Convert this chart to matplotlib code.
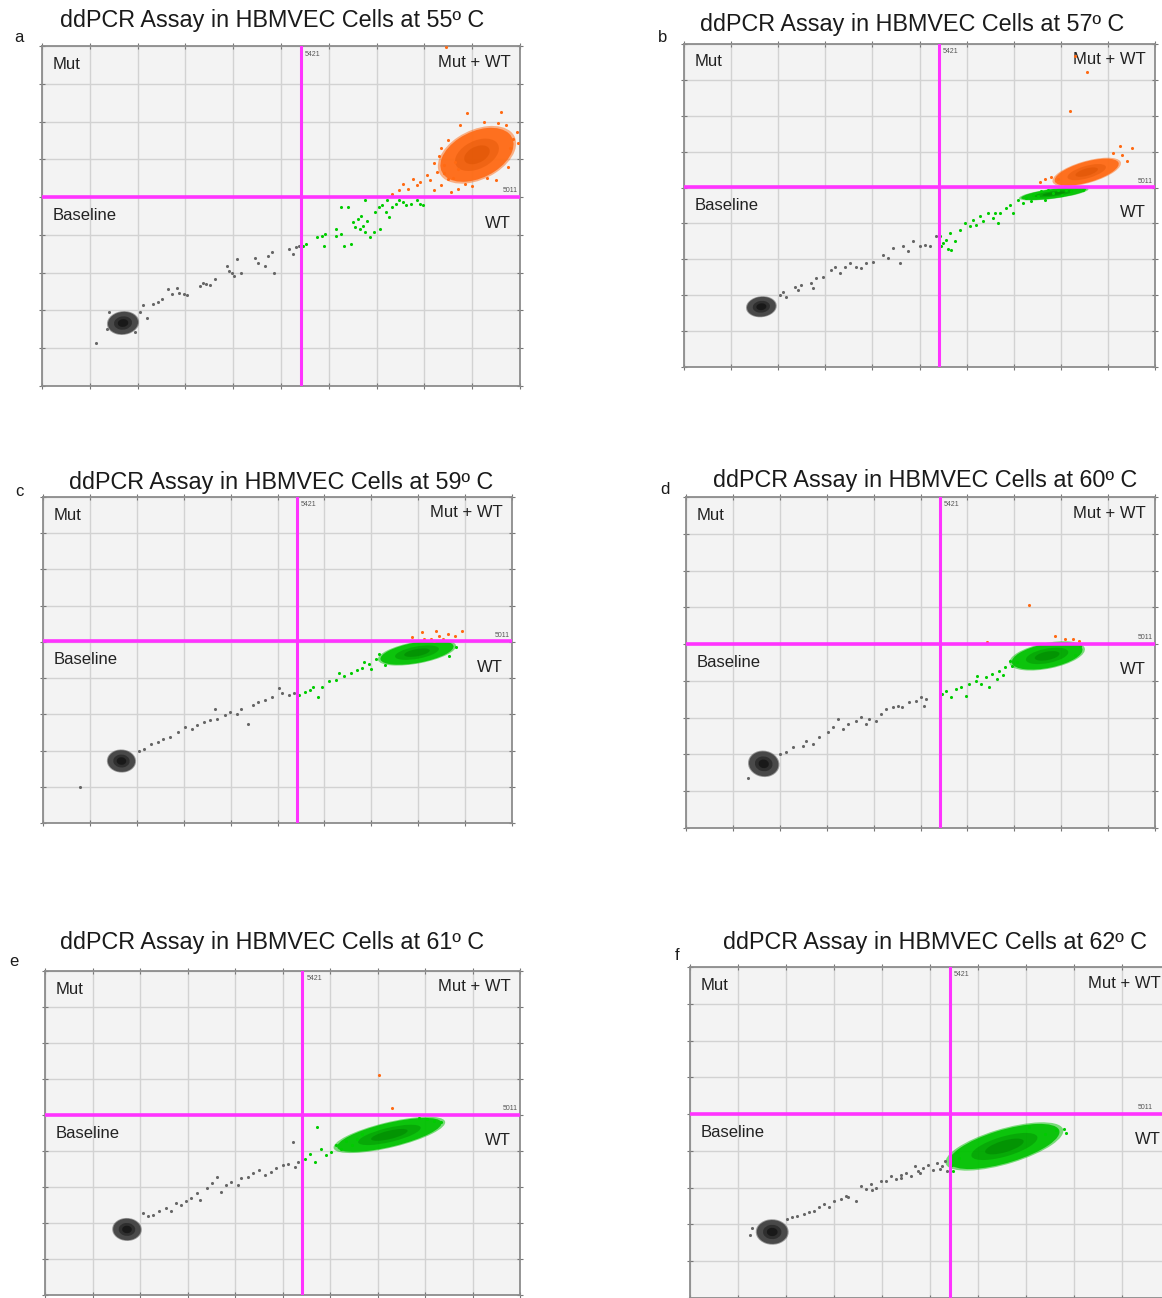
import numpy as np
import matplotlib.pyplot as plt
from matplotlib.patches import Ellipse

plt.rcParams['font.family'] = ['Liberation Sans', 'DejaVu Sans']

# channel thresholds (amplitude)
thr_x = 5421
thr_y = 5011

titles = ["ddPCR Assay in HBMVEC Cells at 55º C", "ddPCR Assay in HBMVEC Cells at 57º C",
          "ddPCR Assay in HBMVEC Cells at 59º C", "ddPCR Assay in HBMVEC Cells at 60º C",
          "ddPCR Assay in HBMVEC Cells at 61º C", "ddPCR Assay in HBMVEC Cells at 62º C"]
letters = ["a", "b", "c", "d", "e", "f"]

# dense droplet clusters: (colour group, centre x, centre y, spread x, spread y, tilt)
clusters_a = [("gray", 1695, 1667, 640, 580, 25), ("orange", 9100, 6120, 1750, 1150, 40)]
clusters_b = [("gray", 1643, 1679, 620, 540, 20), ("green", 7850, 4830, 1400, 260, 10),
              ("orange", 8550, 5430, 1450, 560, 22)]
clusters_c = [("gray", 1673, 1711, 580, 600, 20), ("green", 7974, 4703, 1600, 560, 14)]
clusters_d = [("gray", 1657, 1745, 620, 680, 20), ("green", 7700, 4680, 1550, 650, 15)]
clusters_e = [("gray", 1726, 1821, 580, 600, 20), ("green", 7250, 4447, 2300, 650, 18)]
clusters_f = [("gray", 1713, 1795, 640, 650, 20), ("green", 6550, 4120, 2450, 880, 22)]

# scattered droplets (x amplitude, y amplitude)
gray_a = [(1130, 1150), (2105, 2131), (2322, 2158), (2430, 2220), (2502, 2291), (2646, 2557),
          (2718, 2424), (2826, 2602), (2862, 2469), (2971, 2424), (3043, 2398), (3295, 2646),
          (3367, 2735), (3439, 2691), (3511, 2664), (3619, 2824), (3872, 3179), (3908, 3046),
          (3980, 3001), (4016, 2913), (4088, 3357), (4160, 3001), (4449, 3401), (4521, 3268),
          (4665, 3179), (4737, 3445), (4809, 3534), (4845, 3001), (5170, 3623), (5242, 3490),
          (5314, 3667), (5386, 3712), (1350, 1500), (2050, 1950), (2200, 1800), (1400, 1950),
          (1950, 1420)]
green_a = [(5458, 3712), (5530, 3756), (5747, 3934), (5855, 3978), (5891, 3712), (5927, 4023),
           (6143, 4156), (6143, 3978), (6251, 4023), (6323, 3712), (6467, 3756), (6251, 4733),
           (6395, 4733), (6503, 4333), (6539, 4200), (6611, 4422), (6647, 4156), (6683, 4511),
           (6719, 4245), (6755, 4067), (6792, 4378), (6864, 3934), (6936, 4067), (6755, 4911),
           (6972, 4600), (7044, 4733), (7080, 4156), (7116, 4778), (7188, 4600), (7260, 4467),
           (7332, 4733), (7404, 4822), (7477, 4911), (7549, 4866), (7621, 4778), (7729, 4822),
           (7837, 4911), (7909, 4822), (7981, 4778), (7224, 4911)]
orange_a = [(7332, 5088), (7477, 5177), (7549, 5355), (7657, 5222), (7765, 5488), (7837, 5310),
            (7909, 5399), (8053, 5577), (8125, 5444), (8198, 5177), (8270, 5666), (8342, 5310),
            (8414, 5843), (8486, 5488), (8558, 5133), (8630, 5932), (8702, 5222), (8883, 7219),
            (9604, 7264), (9928, 6731), (9964, 6420), (8450, 8969), (8300, 6100), (8500, 6500),
            (9800, 6300), (9500, 5450), (8850, 5350), (9250, 7000), (9700, 6900), (8200, 5900),
            (8400, 5650), (8600, 5500), (8700, 5750), (8350, 6300), (9750, 5800), (9850, 6550),
            (9550, 6950), (9000, 5300), (9300, 5500), (8750, 6900)]

gray_b = [(2032, 2006), (2103, 2099), (2174, 1959), (2351, 2239), (2421, 2146), (2492, 2286),
          (2705, 2333), (2740, 2193), (2811, 2473), (2952, 2519), (3129, 2706), (3200, 2799),
          (3306, 2612), (3413, 2799), (3519, 2892), (3660, 2799), (3767, 2752), (3873, 2892),
          (4014, 2939), (4227, 3126), (4333, 3032), (4439, 3312), (4581, 2892), (4652, 3359),
          (4758, 3219), (4864, 3499), (5006, 3359), (5112, 3405), (5218, 3359), (5360, 3639)]
green_b = [(5430, 3639), (5466, 3359), (5572, 3545), (5643, 3732), (5678, 3265), (5749, 3499),
           (5855, 3825), (5961, 4012), (6068, 3919), (6138, 4105), (6280, 4199), (6351, 4059),
           (6457, 4292), (6563, 4152), (6669, 4012), (6705, 4292), (6846, 4432), (6917, 4525),
           (6988, 4292), (7094, 4665), (7200, 4572), (7271, 4712), (7377, 4618), (7413, 4805),
           (7519, 4758), (7590, 4898), (7661, 4665), (7731, 4945), (7838, 4852), (7944, 4945),
           (8015, 4805), (8121, 4945), (8227, 4898), (8333, 4992), (8475, 4945), (5500, 3450),
           (5600, 3300), (6200, 3950), (6600, 4300)]
orange_b = [(8192, 7137), (8546, 8210), (8298, 8677), (9254, 6158), (9502, 6111), (7554, 5150),
            (7661, 5225), (7800, 5300), (9300, 5900), (9100, 5950), (9400, 5750), (7950, 5250)]

gray_c = [(789, 982), (2041, 1991), (2152, 2038), (2299, 2179), (2447, 2225), (2557, 2319),
          (2705, 2366), (2889, 2506), (3036, 2646), (3184, 2599), (3294, 2693), (3442, 2786),
          (3552, 2833), (3663, 3160), (3700, 2880), (3884, 2973), (3995, 3067), (4142, 3020),
          (4216, 3160), (4363, 2740), (4474, 3254), (4584, 3347), (4731, 3394), (4879, 3488),
          (5026, 3721), (5100, 3581), (5247, 3534), (5358, 3581)]
green_c = [(5469, 3534), (5579, 3628), (5690, 3674), (5763, 3768), (5874, 3488), (5948, 3768),
           (6095, 3908), (6243, 3955), (6316, 4142), (6427, 4048), (6574, 4142), (6685, 4236),
           (6795, 4282), (6943, 4376), (7090, 4516), (7164, 4656), (8800, 4850), (8650, 4600),
           (7300, 4350), (6850, 4450), (7000, 4250)]
orange_c = [(7864, 5124), (8085, 5264), (8269, 5077), (8380, 5311), (8453, 5171), (8527, 5077),
            (8638, 5217), (8785, 5171), (8932, 5311), (8122, 5077), (8343, 5030)]

gray_d = [(1324, 1365), (1997, 2016), (2138, 2061), (2280, 2197), (2492, 2242), (2563, 2378),
          (2705, 2287), (2846, 2468), (3023, 2604), (3129, 2739), (3236, 2965), (3342, 2694),
          (3448, 2829), (3625, 2920), (3731, 3010), (3837, 2829), (3908, 2965), (4050, 2920),
          (4156, 3101), (4262, 3236), (4404, 3281), (4510, 3327), (4616, 3281), (4758, 3417),
          (4899, 3462), (5006, 3553), (5077, 3327), (5112, 3507)]
green_d = [(5466, 3643), (5536, 3734), (5643, 3553), (5749, 3779), (5855, 3824), (5961, 3598),
           (6032, 3914), (6174, 4005), (6280, 3914), (6386, 4095), (6528, 4186), (6634, 4050),
           (6669, 4276), (6811, 4366), (6953, 4412), (7059, 4502), (6209, 4140), (6457, 3824),
           (8400, 4950), (8300, 4700), (6750, 4150), (6900, 4550)]
orange_d = [(7307, 6066), (6422, 5044), (7873, 5225), (8085, 5135), (8262, 5135), (8369, 5090)]

gray_e = [(2066, 2278), (2175, 2187), (2284, 2233), (2393, 2324), (2538, 2416), (2646, 2324),
          (2755, 2553), (2864, 2507), (2973, 2599), (3081, 2690), (3190, 2827), (3263, 2644),
          (3408, 2965), (3516, 3102), (3625, 3285), (3698, 2873), (3806, 3056), (3915, 3148),
          (4060, 3056), (4133, 3239), (4278, 3285), (4386, 3376), (4495, 3468), (4640, 3331),
          (4749, 3422), (4858, 3514), (5003, 3605), (5111, 3651), (5220, 4246), (5256, 3559),
          (5329, 3697)]
green_e = [(5474, 3788), (5583, 3925), (5691, 3697), (5728, 4657), (5800, 4063), (5909, 3880),
           (6018, 3971), (6126, 4154), (6235, 4063), (6344, 4291), (6453, 4154), (6561, 4337),
           (6670, 4474), (8048, 4886), (8193, 4840), (8338, 4795), (7866, 4904)]
orange_e = [(7033, 6121), (7308, 5188)]

gray_f = [(2027, 2152), (2132, 2197), (2237, 2241), (2377, 2286), (2481, 2331), (2586, 2375),
          (2691, 2465), (2796, 2554), (2901, 2465), (3006, 2643), (3146, 2688), (3250, 2777),
          (3460, 2643), (3565, 3045), (3670, 2956), (3775, 3090), (3879, 3000), (3984, 3179),
          (4089, 3179), (4194, 3313), (4299, 3224), (4404, 3358), (4509, 3402), (4613, 3313),
          (4683, 3581), (4753, 3447), (4858, 3536), (4963, 3626), (5068, 3492), (5138, 3670),
          (5243, 3581), (5313, 3715), (5348, 3447), (4400, 3250), (4800, 3400), (5200, 3500),
          (3800, 2950), (3300, 2750), (1250, 1700), (1300, 1900)]
green_f = [(5452, 3626), (5487, 3447), (5557, 3983), (7619, 4563), (7794, 4608), (7829, 4474),
           (7060, 4653), (7400, 4450), (5600, 3800)]
orange_f = []

panels = [
    (clusters_a, gray_a, green_a, orange_a),
    (clusters_b, gray_b, green_b, orange_b),
    (clusters_c, gray_c, green_c, orange_c),
    (clusters_d, gray_d, green_d, orange_d),
    (clusters_e, gray_e, green_e, orange_e),
    (clusters_f, gray_f, green_f, orange_f),
]

W, H = 1162, 1298
# axes boxes in pixels: left, top, width, height
boxes = [(42, 46, 478, 340), (684, 44, 471, 323), (43, 497, 469, 326),
         (686, 497, 469, 331), (45, 971, 475, 324), (690, 967, 480, 331)]
title_pos = [(272, 20), (912, 25), (281, 482), (925, 480), (272, 942), (935, 942)]
letter_pos = [(19, 38), (663, 38), (19, 492), (665, 490), (14, 962), (677, 955)]

base = {"gray": "#404040", "green": "#00c200", "orange": "#ff6a14"}
core = {"gray": "#000000", "green": "#007a00", "orange": "#d85000"}
dot = {"gray": "#666666", "green": "#00cc00", "orange": "#ff6a13"}

fig = plt.figure(figsize=(W / 100, H / 100), dpi=100)

for i, (clusters, gray, green, orange) in enumerate(panels):
    l, t, w, h = boxes[i]
    ax = fig.add_axes([l / W, (H - t - h) / H, w / W, h / H])
    ax.set_facecolor("#f3f3f3")
    ax.set_xlim(0, 10000)
    ax.set_ylim(0, 9000)
    ax.set_xticks(np.arange(0, 10001, 1000))
    ax.set_yticks(np.arange(0, 9001, 1000))
    ax.set_xticklabels([])
    ax.set_yticklabels([])
    ax.grid(True, color="#d2d2d2", linewidth=1.0)
    ax.set_axisbelow(True)
    ax.tick_params(direction="inout", length=5, color="#777777", top=True, right=True)
    for sp in ax.spines.values():
        sp.set_color("#8c8c8c")
        sp.set_linewidth(1.3)

    for name, cx, cy, sx, sy, ang in clusters:
        layers = [(1.07, base[name], 0.5), (1.0, base[name], 0.9),
                  (0.6, core[name], 0.35), (0.35, core[name], 0.45)]
        for k, (f, c, a) in enumerate(layers):
            ax.add_patch(Ellipse((cx, cy), sx * f, sy * f, angle=ang, facecolor=c,
                                 edgecolor="none", alpha=a, zorder=3 + k * 0.1))

    for name, pts in (("gray", gray), ("green", green), ("orange", orange)):
        if len(pts):
            arr = np.array(pts)
            ax.scatter(arr[:, 0], arr[:, 1], s=5, color=dot[name], linewidths=0, zorder=4)

    ax.axvline(thr_x, color="#ff33ff", linewidth=2.2, zorder=5)
    ax.axhline(thr_y, color="#ff33ff", linewidth=2.6, zorder=5)
    ax.text(thr_x + 80, 8880, str(thr_x), fontsize=5, color="#555555", va="top", zorder=6)
    lab_x = 9960 if i < 5 else 9650
    ax.text(lab_x, thr_y + 60, str(thr_y), fontsize=5, color="#555555", ha="right",
            va="bottom", zorder=6)

    ax.text(230, 8500, "Mut", fontsize=12, va="center", color="#222222")
    ax.text(9800, 8560, "Mut + WT", fontsize=12, va="center", ha="right", color="#222222")
    ax.text(230, 4500, "Baseline", fontsize=12, va="center", color="#222222")
    ax.text(9800, 4300, "WT", fontsize=12, va="center", ha="right", color="#222222")

    tx, ty = title_pos[i]
    fig.text(tx / W, 1 - ty / H, titles[i], fontsize=16.8, ha="center", va="center",
             color="#1a1a1a")
    lx, ly = letter_pos[i]
    fig.text(lx / W, 1 - ly / H, letters[i], fontsize=12, ha="center", va="center",
             color="#1a1a1a")

fig.savefig("out.png", dpi=100, facecolor="white")
